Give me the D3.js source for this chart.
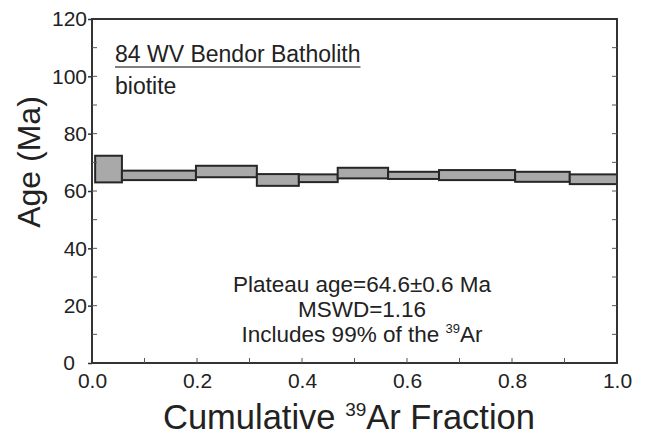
<!DOCTYPE html>
<html>
<head>
<script src="https://d3js.org/d3.v7.min.js"></script>
<style>
  body { margin: 0; background: #fff; }
  svg text { font-family: "Liberation Sans", Arial, sans-serif; fill: #222; }
</style>
</head>
<body>
<div id="chart"></div>
<script>
// cumulative 39Ar fraction at step boundaries
var fracEdges = [0.006, 0.057, 0.198, 0.314, 0.394, 0.468, 0.564, 0.661, 0.806, 0.910, 1.0];
// age envelope (Ma) of each heating step
var ageLow  = [63.0, 63.8, 64.8, 61.8, 63.1, 64.4, 64.2, 63.8, 63.2, 62.4];
var ageHigh = [72.3, 67.1, 68.8, 65.9, 65.8, 68.1, 66.7, 67.3, 66.7, 65.8];
var xTicks = [0, 0.2, 0.4, 0.6, 0.8, 1.0];
var yTicks = [0, 20, 40, 60, 80, 100, 120];

var W = 648, H = 436;
var margin = { top: 19, left: 92, right: 31, bottom: 73 };

var svg = d3.select("#chart").append("svg")
    .attr("width", W)
    .attr("height", H);

var x = d3.scaleLinear().domain([0, 1]).range([margin.left, W - margin.right]);
var y = d3.scaleLinear().domain([0, 120]).range([H - margin.bottom, margin.top]);

var steps = ageLow.map(function (d, i) {
    return { x0: fracEdges[i], x1: fracEdges[i + 1], lo: d, hi: ageHigh[i] };
});

svg.append("g")
    .selectAll("rect")
    .data(steps)
    .enter().append("rect")
    .attr("x", function (d) { return x(d.x0); })
    .attr("y", function (d) { return y(d.hi); })
    .attr("width", function (d) { return x(d.x1) - x(d.x0); })
    .attr("height", function (d) { return y(d.lo) - y(d.hi); })
    .attr("fill", "#a9a9a9")
    .attr("stroke", "#262626")
    .attr("stroke-width", 2);

// frame
svg.append("rect")
    .attr("x", x(0)).attr("y", y(120))
    .attr("width", x(1) - x(0)).attr("height", y(0) - y(120))
    .attr("fill", "none")
    .attr("stroke", "#333")
    .attr("stroke-width", 2);

// minor inward ticks
var minorX = d3.range(0.1, 1, 0.1);
var minorY = d3.range(10, 120, 10);

svg.append("g").selectAll("line").data(minorX).enter().append("line")
    .attr("x1", function (d) { return x(d); }).attr("x2", function (d) { return x(d); })
    .attr("y1", y(0)).attr("y2", y(0) - 5)
    .attr("stroke", "#555").attr("stroke-width", 1);

svg.append("g").selectAll("line").data(minorY).enter().append("line")
    .attr("x1", x(0)).attr("x2", x(0) + 5)
    .attr("y1", function (d) { return y(d); }).attr("y2", function (d) { return y(d); })
    .attr("stroke", "#555").attr("stroke-width", 1);

svg.append("g").selectAll("line").data(minorY).enter().append("line")
    .attr("x1", x(1)).attr("x2", x(1) - 5)
    .attr("y1", function (d) { return y(d); }).attr("y2", function (d) { return y(d); })
    .attr("stroke", "#555").attr("stroke-width", 1);

// axes with labels
var xAxis = svg.append("g")
    .attr("transform", "translate(0," + y(0) + ")")
    .call(d3.axisBottom(x).tickValues(xTicks).tickFormat(d3.format(".1f")).tickSize(0).tickPadding(10));
var yAxis = svg.append("g")
    .attr("transform", "translate(" + x(0) + ",0)")
    .call(d3.axisLeft(y).tickValues(yTicks).tickSize(4).tickPadding(1));

[xAxis, yAxis].forEach(function (g) {
    g.select(".domain").remove();
    g.selectAll("line").attr("stroke", "#333").attr("stroke-width", 1.5);
    g.selectAll("text")
        .style("font-family", "'Liberation Sans', Arial, sans-serif")
        .style("font-size", "21px")
        .attr("fill", "#222");
});
xAxis.selectAll("text").attr("dy", "0.71em");
// the zero label sits left so it clears "0.0"
yAxis.selectAll(".tick").filter(function (d) { return d === 0; })
    .select("text").attr("dx", -12);

// axis titles
svg.append("text")
    .attr("transform", "translate(40,162) rotate(-90)")
    .attr("text-anchor", "middle")
    .style("font-size", "32px")
    .text("Age (Ma)");

var xt = svg.append("text")
    .attr("x", 349)
    .attr("y", 429)
    .attr("text-anchor", "middle")
    .style("font-size", "34.5px");
xt.append("tspan").text("Cumulative ");
xt.append("tspan").attr("dy", -13).style("font-size", "19px").text("39");
xt.append("tspan").attr("dy", 13).text("Ar Fraction");

// sample label
var title = svg.append("text")
    .attr("x", 115).attr("y", 62)
    .style("font-size", "23px")
    .text("84 WV Bendor Batholith");
var tb = title.node().getBBox();
svg.append("line")
    .attr("x1", tb.x).attr("x2", tb.x + tb.width)
    .attr("y1", 67).attr("y2", 67)
    .attr("stroke", "#555").attr("stroke-width", 1.5);

svg.append("text")
    .attr("x", 115).attr("y", 94)
    .style("font-size", "23px")
    .text("biotite");

// plateau annotation
var cx = 362;
svg.append("text").attr("x", cx).attr("y", 292).attr("text-anchor", "middle")
    .style("font-size", "22.5px").text("Plateau age=64.6\u00b10.6 Ma");
svg.append("text").attr("x", cx).attr("y", 317).attr("text-anchor", "middle")
    .style("font-size", "22.5px").text("MSWD=1.16");
var inc = svg.append("text").attr("x", cx).attr("y", 342).attr("text-anchor", "middle")
    .style("font-size", "22.5px");
inc.append("tspan").text("Includes 99% of the ");
inc.append("tspan").attr("dy", -9).style("font-size", "13px").text("39");
inc.append("tspan").attr("dy", 9).text("Ar");
</script>
</body>
</html>
